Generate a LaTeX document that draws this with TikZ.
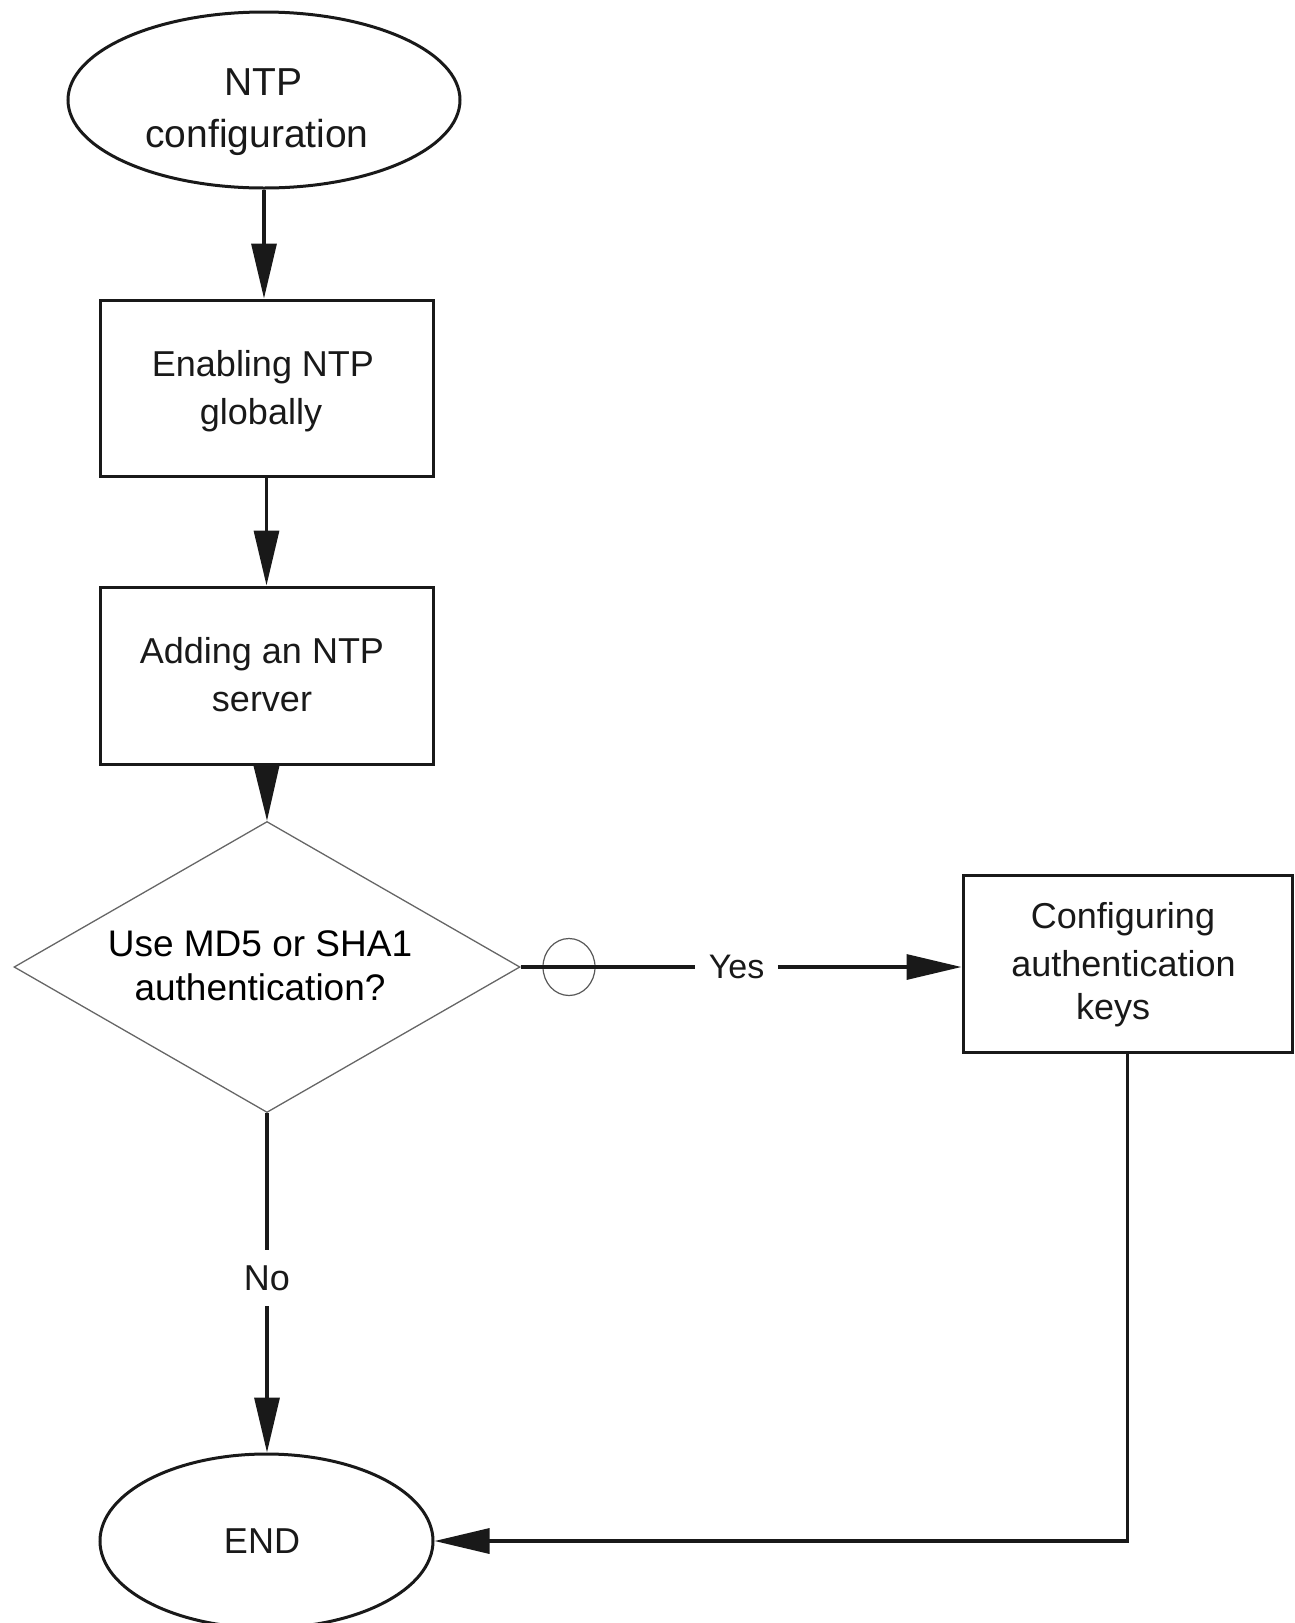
\documentclass[tikz,border=0pt]{standalone}
\usepackage{fontspec}
\setmainfont{Liberation Sans}
\usetikzlibrary{shapes.geometric,arrows.meta}
\begin{document}
\begin{tikzpicture}[x=1pt,y=-1pt,
  shapeline/.style={draw=black!90, line width=3pt},
  startend/.style={shapeline, ellipse, inner sep=0pt},
  procbox/.style={shapeline, rectangle, inner sep=0pt},
  decbox/.style={draw=black!60, line width=1.3pt, diamond, inner sep=0pt},
  hopc/.style={draw=black!65, line width=1.2pt, ellipse, inner sep=0pt, minimum width=52pt, minimum height=57pt},
  conn/.style={draw=black!90, line width=3.3pt},
  arr/.style={conn, -{Triangle[length=55pt,width=25pt]}},
  txtbase/.style={text=black!90, inner sep=0pt, anchor=base},
  tA/.style={txtbase, font=\fontsize{39}{47}\selectfont},
  tB/.style={txtbase, font=\fontsize{36}{44}\selectfont},
  tC/.style={txtbase, text=black, font=\fontsize{37}{44}\selectfont},
  lab/.style={text=black!90, inner sep=0pt}
]
\useasboundingbox (0,0) rectangle (1294,1623);

% shapes
\node[startend, minimum width=392pt, minimum height=176pt] (start) at (264,100) {};
\node[procbox, minimum width=333pt, minimum height=176pt] (en) at (266.5,388) {};
\node[procbox, minimum width=333pt, minimum height=177pt] (add) at (266.5,675.5) {};
\node[decbox, minimum width=506pt, minimum height=291pt] (dec) at (267,967) {};
\node[procbox, minimum width=329pt, minimum height=177pt] (cfg) at (1127.5,963.5) {};
\node[startend, minimum width=333pt, minimum height=174pt] (fin) at (266.5,1541) {};
\node[hopc] (hop) at (569,967) {};

% texts
\node[tA] (t1a) at (263.5,95) {NTP};
\node[tA] (t1b) at (257,147) {configuration};
\node[tB] (t2a) at (263,376) {Enabling NTP};
\node[tB] (t2b) at (261,424) {globally};
\node[tB] (t3a) at (262,663.5) {Adding an NTP};
\node[tB] (t3b) at (262,711) {server};
\node[tC] (t4a) at (260,956.5) {Use MD5 or SHA1};
\node[tC] (t4b) at (260,1000) {authentication?};
\node[tB] (t5a) at (1123,928.5) {Configuring};
\node[tB] (t5b) at (1123.5,976) {authentication};
\node[tB] (t5c) at (1113,1019.7) {keys};
\node[tB] (t6) at (262,1553) {END};

% branch labels
\node[lab, font=\fontsize{34}{40}\selectfont, inner xsep=13.5pt] (yesl) at (736.5,967) {Yes};
\node[lab, font=\fontsize{36}{44}\selectfont, inner xsep=4pt, inner ysep=15.5pt] (nol) at (267,1278) {No};

% connectors
\draw[arr] (start.south) -- (start.south |- en.north);
\draw[arr] (en.south) -- (add.north);
\draw[arr] (add.south) -- (dec.north);
\draw[conn] (dec.east) -- (yesl.west);
\draw[arr] (yesl.east) -- (yesl.east -| cfg.west);
\draw[conn] (dec.south) -- (nol.north);
\draw[arr] (nol.south) -- (nol.south |- fin.north);
\draw[arr] (cfg.south) |- (fin.east);
\end{tikzpicture}
\end{document}
